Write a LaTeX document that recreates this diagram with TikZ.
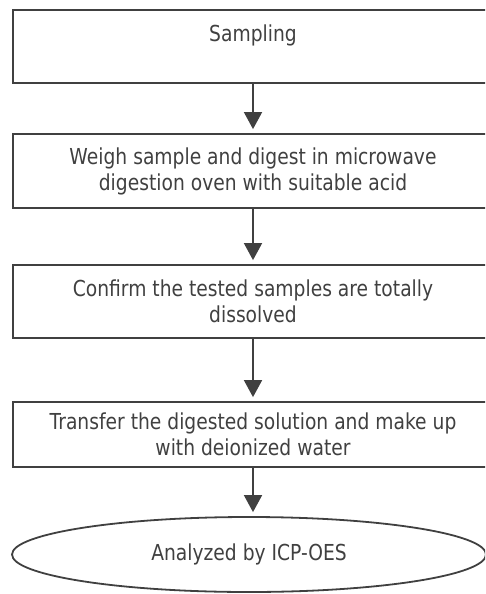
\documentclass[tikz,border=0pt]{standalone}
\usepackage{fontspec}
\setmainfont[FakeStretch=0.85]{DejaVu Sans}
\usetikzlibrary{arrows.meta,shapes.geometric}
\definecolor{ink}{HTML}{404040}
\begin{document}
\begin{tikzpicture}[x=1pt,y=-1pt,line width=1.8pt,color=ink,
		stepbox/.style={draw,rectangle,minimum width=480pt,inner sep=0pt,align=center,font=\fontsize{22}{26}\selectfont},
		endbox/.style={draw,ellipse,minimum width=474pt,minimum height=75pt,inner sep=0pt,font=\fontsize{22}{26}\selectfont},
		flow/.style={-{Triangle[length=17pt,width=18pt]},shorten >=4pt}]
		\useasboundingbox (0,0) rectangle (485,594) ;
		\clip (0,0) rectangle (485,594) ;
		% process steps
		\node[stepbox,minimum height=73pt] (sampling) at (253,46.5) {Sampling\\~} ;
		\node[stepbox,minimum height=74pt] (digest) at (253,171) {Weigh sample and digest in microwave\\digestion oven with suitable acid} ;
		\node[stepbox,minimum height=73pt] (confirm) at (253,301.5) {Confirm the tested samples are totally\\dissolved} ;
		\node[stepbox,minimum height=65pt] (transfer) at (253,434.5) {Transfer the digested solution and make up\\with deionized water} ;
		\node[endbox] (analyze) at (249,554.5) {Analyzed by ICP-OES} ;
		\draw[flow] (sampling) -- (digest) ; \draw[flow] (digest) -- (confirm) ; \draw[flow] (confirm) -- (transfer) ;
		\draw[flow] (transfer.south) -- (transfer.south |- analyze.north) ;
	\end{tikzpicture}
\end{document}
